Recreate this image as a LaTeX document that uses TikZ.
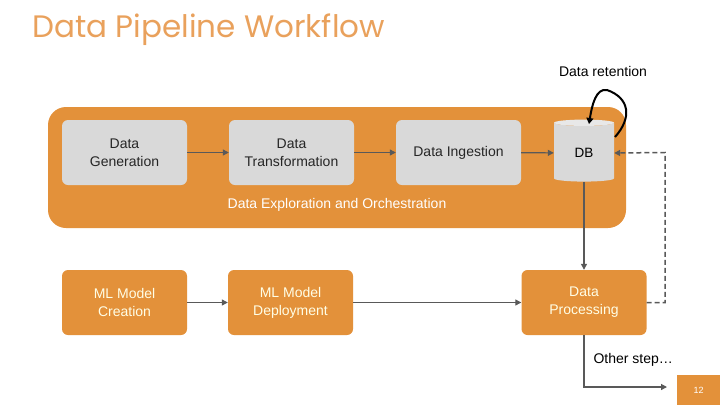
\documentclass[tikz,border=0pt]{standalone}
\usepackage{fontspec}
\setmainfont{Liberation Sans}
\newfontfamily\titlefont{Poppins}
\usetikzlibrary{shapes.geometric,arrows.meta}
\definecolor{org}{HTML}{E3913A}
\definecolor{ttl}{HTML}{E9A15C}
\definecolor{gbox}{HTML}{D9D9D9}
\definecolor{ln}{HTML}{595959}
\begin{document}
\begin{tikzpicture}[x=1pt,y=-1pt,
 gray box/.style={draw=none,fill=gbox,rounded corners=6pt,minimum width=125pt,minimum height=65pt,align=center,font=\fontsize{14}{18}\selectfont,text=black!85},
 org box/.style={draw=none,fill=org,rounded corners=6pt,minimum width=125pt,minimum height=65pt,align=center,font=\fontsize{14}{18}\selectfont,text=white!90!yellow},
 arr/.style={draw=ln,line width=1.2pt,-{Triangle[length=6pt,width=6pt]}}]
\useasboundingbox (0,0) rectangle (720,405);
\node[anchor=west,text=ttl,font=\titlefont\fontsize{31}{34}\selectfont] (title) at (29,30) {Data Pipeline Workflow};
\fill[org,rounded corners=18pt] (48,107) rectangle (626,228);
\node[gray box] (gen) at (124.5,152.5) {Data\\Generation};
\node[gray box] (tra) at (291.5,152.5) {Data\\Transformation};
\node[gray box] (ing) at (458.5,152.5) {Data Ingestion};
\node[cylinder,shape border rotate=90,aspect=0.25,cylinder uses custom fill,cylinder body fill=gbox,cylinder end fill=gbox!60,draw=none,minimum width=60pt,minimum height=62pt,font=\fontsize{13.5}{16}\selectfont] (db) at (584,153) {DB};
\node[text=white,font=\fontsize{14}{16}\selectfont] (expl) at (337,205) {Data Exploration and Orchestration};
\node[org box] (mlc) at (124.5,302.5) {ML Model\\Creation};
\node[org box] (mld) at (290.5,302.5) {ML Model\\Deployment};
\node[org box] (dp) at (584,302.5) {Data\\Processing};
\draw[arr] (gen) -- (tra);
\draw[arr] (tra) -- (ing);
\draw[arr] (ing) -- (db);
\draw[arr] (db) -- (dp);
\draw[arr] (mlc) -- (mld);
\draw[arr] (mld) -- (dp);
\draw[arr,line width=1.5pt,dash pattern=on 5pt off 3pt] (dp.east) -- (665,302.5) -- (665,152.5) -- (db.east);
\coordinate (oe) at (667,387);
\draw[arr] (dp.south) |- (oe);
\node[anchor=west,font=\fontsize{14}{16}\selectfont] (os) at (590,360) {Other step\dots};
\node[fill=org,minimum width=43pt,minimum height=30pt,text=white,font=\fontsize{9}{10}\selectfont] (pg) at (698.5,390) {12};
\node[font=\fontsize{14}{16}\selectfont] (ret) at (603,71) {Data retention};
\coordinate (rs) at (615,137);
\coordinate (re) at (589,124);
\draw[black,line width=2pt,-{Triangle[length=6pt,width=7pt]}] (rs) .. controls (632,118) and (630,98) .. (607,90) .. controls (596,88) and (592,105) .. (re);
\end{tikzpicture}
\end{document}
